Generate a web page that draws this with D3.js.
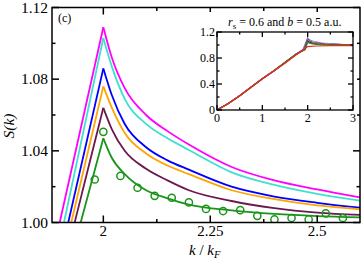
<!DOCTYPE html>
<html>
<head>
<meta charset="utf-8">
<script src="https://cdn.jsdelivr.net/npm/d3@7"></script>
<style>
  body { margin: 0; background: #fff; }
  svg { display: block; font-family: 'Liberation Serif', 'DejaVu Serif', serif; }
</style>
</head>
<body>
<div id="chart"></div>
<script>
// series names / colours, drawn back to front
const seriesNames = ['magenta', 'cyan', 'blue', 'orange', 'purple', 'green']
const seriesColors = ['#ff00ff', '#40e0d0', '#0000ff', '#ffa500', '#6b1a4f', '#1a951a']

// left branch: k where S crosses 1.00, then the cusp at k = 2
const leftStartK = [1.898, 1.908, 1.918, 1.925, 1.933, 1.947]
const peakS = [1.109, 1.103, 1.086, 1.076, 1.064, 1.047]

// right branch, sampled at tailK
const tailK = [2, 2.02, 2.05, 2.1, 2.15, 2.2, 2.3, 2.4, 2.5, 2.6]
const tailS = [
  [1.109, 1.092, 1.075, 1.060, 1.051, 1.0435, 1.031, 1.0235, 1.0185, 1.014],
  [1.103, 1.087, 1.069, 1.055, 1.047, 1.0405, 1.028, 1.021, 1.016, 1.0122],
  [1.086, 1.071, 1.055, 1.042, 1.0347, 1.0295, 1.020, 1.0145, 1.011, 1.0083],
  [1.076, 1.064, 1.050, 1.0385, 1.0318, 1.027, 1.018, 1.013, 1.0095, 1.0074],
  [1.064, 1.052, 1.040, 1.030, 1.0235, 1.018, 1.012, 1.008, 1.0055, 1.0042],
  [1.047, 1.036, 1.027, 1.018, 1.0135, 1.010, 1.0068, 1.0048, 1.0036, 1.0029]
]

// open circles (reference data)
const circK = [1.98, 2.0, 2.04, 2.08, 2.12, 2.16, 2.20, 2.24, 2.28, 2.32, 2.36, 2.40, 2.44, 2.48, 2.52, 2.56]
const circS = [1.024, 1.0506, 1.026, 1.0194, 1.0149, 1.0138, 1.0112, 1.0076, 1.0064, 1.0069, 1.0037, 1.0017, 1.0025, 1.0017, 1.0051, 1.0025]

// inset: common rising part, red curve
const insetBaseK = [0, 0.25, 0.5, 0.75, 1, 1.25, 1.5, 1.75]
const insetBaseS = [0, 0.1, 0.22, 0.35, 0.48, 0.6, 0.73, 0.86]
const redK = [0, 0.25, 0.5, 0.75, 1, 1.25, 1.5, 1.75, 2, 2.2, 2.5, 3]
const redS = [0, 0.1, 0.22, 0.35, 0.48, 0.6, 0.72, 0.85, 0.975, 0.985, 0.99, 0.99]

const xTicks = [2, 2.25, 2.5]
const yTicks = [1.0, 1.04, 1.08, 1.12]
const insetXTicks = [0, 1, 2, 3]
const insetYTicks = [0, 0.4, 0.8, 1.2]

const width = 362
const height = 261
const svg = d3.select('#chart').append('svg')
  .attr('width', width)
  .attr('height', height)

const x = d3.scaleLinear().domain([1.88, 2.6]).range([52, 360])
const y = d3.scaleLinear().domain([1.0, 1.12]).range([222.5, 7.5])

svg.append('clipPath').attr('id', 'clip')
  .append('rect')
  .attr('x', 52).attr('y', 7.5).attr('width', 308).attr('height', 215)

const plot = svg.append('g').attr('clip-path', 'url(#clip)')
const line = d3.line().x(d => x(d[0])).y(d => y(d[1]))
const smooth = d3.line().x(d => x(d[0])).y(d => y(d[1])).curve(d3.curveMonotoneX)

seriesNames.forEach((name, i) => {
  plot.append('path')
    .attr('d', line([[leftStartK[i], 1.0], [2, peakS[i]]]))
    .attr('fill', 'none')
    .attr('stroke', seriesColors[i])
    .attr('stroke-width', 1.8)
  plot.append('path')
    .attr('d', smooth(tailK.map((k, j) => [k, tailS[i][j]])))
    .attr('fill', 'none')
    .attr('stroke', seriesColors[i])
    .attr('stroke-width', 1.8)
})

plot.selectAll('circle.pt')
  .data(circK.map((k, j) => [k, circS[j]]))
  .enter()
  .append('circle')
  .attr('class', 'pt')
  .attr('cx', d => x(d[0]))
  .attr('cy', d => y(d[1]))
  .attr('r', 3.6)
  .attr('fill', 'none')
  .attr('stroke', seriesColors[5])
  .attr('stroke-width', 1.5)

// axes with inward ticks on all four sides
function frame (g, xs, ys, xMajor, yMajor, xMinor, yMinor, len, lw) {
  const [x0, x1] = xs.range()
  const [y0, y1] = ys.range()
  g.append('rect')
    .attr('x', x0).attr('y', y1).attr('width', x1 - x0).attr('height', y0 - y1)
    .attr('fill', 'none').attr('stroke', '#000').attr('stroke-width', lw)
  const tick = (vals, l, isX) => {
    vals.forEach(v => {
      if (isX) {
        const p = xs(v)
        g.append('line').attr('x1', p).attr('x2', p).attr('y1', y0).attr('y2', y0 - l)
        g.append('line').attr('x1', p).attr('x2', p).attr('y1', y1).attr('y2', y1 + l)
      } else {
        const p = ys(v)
        g.append('line').attr('y1', p).attr('y2', p).attr('x1', x0).attr('x2', x0 + l)
        g.append('line').attr('y1', p).attr('y2', p).attr('x1', x1).attr('x2', x1 - l)
      }
    })
  }
  tick(xMajor, len, true)
  tick(xMinor, len / 2, true)
  tick(yMajor, len, false)
  tick(yMinor, len / 2, false)
  g.selectAll('line').attr('stroke', '#000').attr('stroke-width', lw)
}

const axes = svg.append('g')
frame(axes, x, y, xTicks, yTicks, [2.125, 2.375], [1.02, 1.06, 1.10], 7, 1.5)

axes.selectAll('text.xl')
  .data(xTicks).enter().append('text')
  .attr('x', d => x(d)).attr('y', 236)
  .attr('text-anchor', 'middle')
  .attr('font-size', 15)
  .text(d => d)

axes.selectAll('text.yl')
  .data(yTicks).enter().append('text')
  .attr('x', 48).attr('y', d => y(d) + 5)
  .attr('text-anchor', 'end')
  .attr('font-size', 15.5)
  .text(d => d3.format('.2f')(d))

svg.append('text')
  .attr('x', 58).attr('y', 22)
  .attr('font-size', 12)
  .text('(c)')

svg.append('text')
  .attr('transform', 'translate(14,126) rotate(-90)')
  .attr('text-anchor', 'middle')
  .attr('font-size', 15.5)
  .attr('font-style', 'italic')
  .text('S(k)')

const xl = svg.append('text')
  .attr('x', 189).attr('y', 255)
  .attr('font-size', 15)
xl.append('tspan').attr('font-style', 'italic').text('k')
xl.append('tspan').text(' / ')
xl.append('tspan').attr('font-style', 'italic').text('k')
xl.append('tspan').attr('font-style', 'italic').attr('font-size', 10.5).attr('dy', 3).text('F')

// inset
const ix = d3.scaleLinear().domain([0, 3]).range([217, 353])
const iy = d3.scaleLinear().domain([0, 1.2]).range([110, 32])

svg.append('rect')
  .attr('x', 203).attr('y', 12).attr('width', 154).attr('height', 113)
  .attr('fill', '#fff')

const ins = svg.append('g')
const iline = d3.line().x(d => ix(d[0])).y(d => iy(d[1]))

seriesNames.forEach((name, i) => {
  const pts = insetBaseK.map((k, j) => [k, insetBaseS[j]])
    .concat([[leftStartK[i], 0.93], [2, peakS[i]]])
    .concat(tailK.slice(1).map((k, j) => [k, tailS[i][j + 1]]))
    .concat([[3, 1.0]])
  ins.append('path')
    .attr('d', iline(pts))
    .attr('fill', 'none')
    .attr('stroke', seriesColors[i])
    .attr('stroke-width', 1.2)
})
ins.append('path')
  .attr('d', iline(redK.map((k, j) => [k, redS[j]])))
  .attr('fill', 'none')
  .attr('stroke', '#ff2020')
  .attr('stroke-width', 1.2)

const iaxes = svg.append('g')
frame(iaxes, ix, iy, insetXTicks, insetYTicks, [0.5, 1.5, 2.5], [0.2, 0.6, 1.0], 5, 1.3)

iaxes.selectAll('text.ixl')
  .data(insetXTicks).enter().append('text')
  .attr('x', d => ix(d)).attr('y', 122)
  .attr('text-anchor', 'middle')
  .attr('font-size', 12)
  .text(d => d)

iaxes.selectAll('text.iyl')
  .data(insetYTicks).enter().append('text')
  .attr('x', 215).attr('y', d => iy(d) + 4)
  .attr('text-anchor', 'end')
  .attr('font-size', 12)
  .text(d => d === 0 ? '0' : d3.format('.1f')(d))

const it = svg.append('text')
  .attr('x', 228).attr('y', 26)
  .attr('font-size', 12)
it.append('tspan').attr('font-style', 'italic').text('r')
it.append('tspan').attr('font-size', 9).attr('dy', 3).text('s')
it.append('tspan').attr('dy', -3).text(' = 0.6 and ')
it.append('tspan').attr('font-style', 'italic').text('b')
it.append('tspan').text(' = 0.5 a.u.')
</script>
</body>
</html>
